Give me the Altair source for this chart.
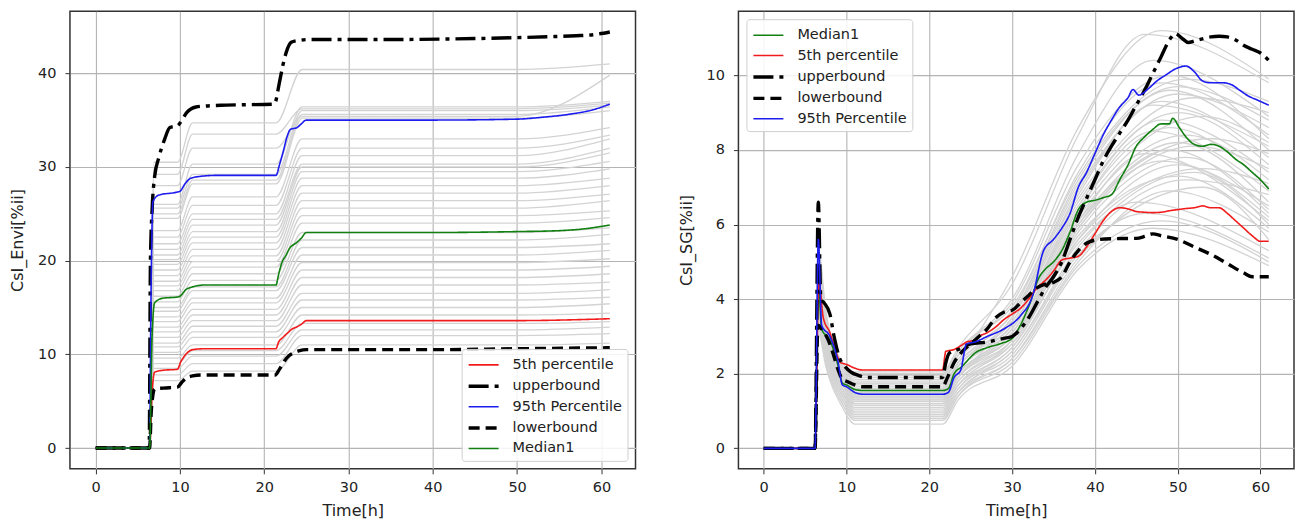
import altair as alt
import pandas as pd

# ---------------- shared ----------------
X_TICKS = [0, 10, 20, 30, 40, 50, 60]

# ---------------- left panel: CsI_Envi ----------------
L_Y_TICKS = [0, 10, 20, 30, 40]
# ensemble runs: value after first jump (a), first plateau (b), second plateau (c), end value (d)
L_ens_t = [0, 6.4, 6.9, 9.7, 11.5, 21.4, 24.5, 50, 61]
L_ens_a = [7.2, 7.8, 8.5, 9.0, 9.6, 10.2, 10.8, 11.2, 11.8, 12.4, 12.9, 13.5, 14.0, 14.6, 15.0, 15.6, 16.2, 16.8,
           17.3, 17.8, 18.4, 19.0, 19.6, 20.1, 20.6, 21.2, 21.8, 22.5, 23.2, 24.5, 25.0, 25.6, 26.0, 28.0, 30.5, 29.2]
L_ens_b = [8.2, 9.0, 9.8, 10.4, 11.0, 11.8, 12.4, 13.0, 13.6, 14.2, 14.8, 15.5, 16.0, 16.8, 17.2, 17.9, 18.6, 19.3,
           19.9, 20.5, 21.2, 21.9, 22.5, 23.1, 23.8, 24.4, 25.0, 25.9, 26.8, 28.2, 28.6, 29.2, 30.3, 32.0, 34.7, 33.5]
L_ens_c = [11.0, 12.0, 12.6, 13.3, 14.2, 15.0, 15.8, 16.5, 17.4, 18.2, 19.0, 19.8, 20.6, 21.4, 22.2, 23.0, 24.0, 24.8,
           25.6, 26.4, 27.2, 28.0, 28.8, 29.5, 30.0, 30.3, 31.2, 32.0, 33.0, 35.2, 35.6, 36.0, 36.4, 35.4, 40.4, 36.2]
L_ens_d = [11.2, 12.2, 12.9, 13.5, 14.4, 15.4, 16.1, 16.9, 17.7, 18.6, 19.4, 20.2, 21.1, 21.8, 22.8, 23.5, 24.6, 25.3,
           26.4, 27.1, 28.0, 28.8, 29.8, 30.6, 31.5, 32.0, 33.0, 33.4, 34.2, 36.0, 36.4, 36.6, 37.0, 39.8, 41.0, 36.8]

L_upper_t = [0, 6.35, 6.5, 6.7, 7.0, 7.5, 8.2, 8.8, 9.7, 10.3, 10.8, 11.9, 13.0, 15.5, 21.2, 21.8, 22.2, 22.6,
             23.2, 24.0, 25.4, 35, 45, 50, 54, 57, 59, 61]
L_upper_v = [0, 0, 20.0, 25.5, 29.0, 31.0, 33.0, 34.2, 34.4, 35.1, 35.8, 36.4, 36.5, 36.6, 36.7, 39.0, 40.8, 42.2,
             43.3, 43.5, 43.6, 43.6, 43.7, 43.8, 43.9, 44.0, 44.1, 44.4]
L_p95_t = [0, 6.4, 6.55, 6.8, 7.5, 9.6, 10.0, 10.6, 11.3, 12.5, 14.5, 21.4, 21.8, 22.3, 22.7, 23.1, 23.9, 24.4,
           25.0, 40, 50, 53, 56, 59, 61]
L_p95_v = [0, 0, 15.0, 26.3, 27.0, 27.3, 27.4, 28.2, 28.8, 29.0, 29.1, 29.1, 30.2, 31.8, 33.2, 34.0, 34.2, 34.6,
           35.0, 35.0, 35.1, 35.3, 35.6, 36.1, 36.7]
L_med_t = [0, 6.4, 6.7, 7.0, 8.0, 9.6, 10.0, 10.7, 11.5, 13, 21.4, 21.7, 22.1, 22.6, 23.0, 23.8, 24.4, 25.0,
           40, 50, 55, 58, 61]
L_med_v = [0, 0, 12.0, 15.5, 16.0, 16.1, 16.2, 16.9, 17.2, 17.4, 17.4, 18.5, 19.8, 20.6, 21.3, 21.9, 22.4, 23.0,
           23.0, 23.1, 23.2, 23.4, 23.8]
L_p5_t = [0, 6.4, 6.7, 7.0, 8.0, 9.7, 10.1, 10.8, 11.5, 13, 21.4, 21.7, 22.2, 22.8, 23.3, 23.8, 24.4, 25.0,
          40, 50, 61]
L_p5_v = [0, 0, 6.0, 8.1, 8.3, 8.4, 9.2, 10.1, 10.5, 10.6, 10.6, 11.3, 11.8, 12.3, 12.7, 12.9, 13.2, 13.6,
          13.6, 13.6, 13.8]
L_lower_t = [0, 6.4, 6.6, 7.0, 8.0, 9.7, 10.2, 10.8, 11.5, 12.5, 21.3, 21.8, 22.4, 23.0, 23.6, 24.2, 25,
             40, 50, 61]
L_lower_v = [0, 0, 4.0, 6.3, 6.4, 6.5, 7.0, 7.5, 7.7, 7.8, 7.8, 8.4, 9.3, 9.9, 10.2, 10.4, 10.5,
             10.5, 10.6, 10.7]

# ---------------- right panel: CsI_SG ----------------
R_Y_TICKS = [0, 2, 4, 6, 8, 10]
# ensemble runs: spike, v@7.5, v@9.5, plateau, v@23.5, v@30, v@38, peak time, peak value, v@61
R_spk = [4.2, 3.8, 4.6, 3.5, 5.0, 3.3, 4.4, 3.6, 5.2, 3.2, 4.0, 4.8, 3.4, 4.3, 3.9, 5.4, 3.1, 4.1,
         3.7, 4.5, 3.5, 4.9, 3.3, 4.2, 3.8, 4.7, 3.6, 4.4, 3.4, 4.0, 5.1, 3.9, 4.3, 3.5, 4.6, 3.2]
R_v75 = [3.0, 2.8, 3.3, 2.6, 3.5, 2.4, 3.1, 2.7, 3.6, 2.3, 2.9, 3.4, 2.5, 3.0, 2.8, 3.7, 2.2, 2.9,
         2.7, 3.2, 2.6, 3.4, 2.4, 3.0, 2.8, 3.3, 2.6, 3.1, 2.5, 2.9, 3.6, 2.8, 3.0, 2.6, 3.3, 2.3]
R_v95 = [1.9, 1.7, 2.1, 1.5, 2.2, 1.3, 2.0, 1.6, 2.3, 1.2, 1.8, 2.2, 1.4, 1.9, 1.7, 2.3, 1.1, 1.8,
         1.6, 2.0, 1.5, 2.2, 1.3, 1.9, 1.7, 2.1, 1.5, 2.0, 1.4, 1.8, 2.2, 1.7, 1.9, 1.5, 2.1, 1.2]
R_plat = [1.45, 1.30, 1.75, 1.10, 1.90, 0.90, 1.60, 1.20, 2.00, 0.75, 1.40, 1.85, 1.00, 1.55, 1.35, 2.05, 0.65, 1.45,
          1.25, 1.65, 1.15, 1.80, 0.85, 1.50, 1.30, 1.70, 1.05, 1.60, 0.95, 1.40, 1.95, 1.35, 1.55, 1.20, 1.75, 0.80]
R_v235 = [2.0, 1.9, 2.3, 1.7, 2.5, 1.5, 2.2, 1.8, 2.6, 1.4, 2.0, 2.4, 1.6, 2.1, 1.9, 2.7, 1.3, 2.0,
          1.8, 2.2, 1.7, 2.5, 1.5, 2.1, 1.9, 2.3, 1.6, 2.2, 1.5, 2.0, 2.6, 1.9, 2.1, 1.7, 2.3, 1.4]
R_v30 = [3.2, 3.0, 3.4, 2.8, 3.7, 2.6, 3.3, 2.9, 4.0, 2.4, 3.1, 3.6, 2.7, 3.3, 3.5, 4.4, 2.2, 3.0,
         2.8, 3.5, 2.9, 3.9, 2.5, 3.2, 3.1, 4.6, 2.6, 3.4, 2.4, 3.0, 3.8, 2.9, 3.3, 2.7, 3.6, 2.3]
R_v38 = [6.4, 6.0, 6.9, 5.8, 7.4, 5.4, 6.6, 5.9, 7.9, 5.1, 6.2, 7.1, 5.6, 6.5, 6.8, 8.4, 4.8, 5.9,
         5.5, 7.0, 6.1, 7.6, 5.2, 6.3, 6.0, 8.6, 5.3, 6.7, 5.0, 6.1, 7.3, 5.7, 6.4, 5.6, 7.2, 4.9]
R_pkt = [49, 50, 48, 51, 48, 52, 50, 49, 47, 53, 51, 49, 50, 48, 47, 46, 47, 52,
         45, 50, 54, 49, 46, 53, 48, 48, 51, 52, 49, 46, 51, 50, 47, 53, 50, 48]
R_pkv = [8.6, 8.2, 9.3, 7.8, 9.8, 7.4, 9.0, 8.0, 10.4, 7.0, 8.4, 9.6, 7.6, 8.8, 9.2, 11.1, 5.9, 8.1,
         6.6, 9.5, 8.3, 10.0, 6.3, 8.9, 7.7, 11.2, 7.2, 9.4, 6.9, 7.9, 9.9, 7.3, 8.5, 7.5, 9.7, 6.1]
R_v61 = [7.0, 6.6, 7.8, 6.4, 8.4, 6.0, 7.6, 6.3, 8.9, 5.6, 7.2, 8.0, 6.2, 7.4, 8.1, 9.8, 4.9, 7.5,
         5.3, 8.6, 7.9, 8.3, 5.1, 8.2, 6.5, 9.9, 6.8, 9.0, 5.8, 6.1, 9.3, 5.9, 6.9, 7.1, 8.8, 5.0]

R_med_t = [0, 6.2, 6.6, 7.0, 8.0, 9.0, 9.5, 10, 11, 12, 21.6, 22.3, 23, 24, 24.8, 25.5, 27, 28.5, 30, 31, 32,
           33.3, 34, 35, 36, 37, 38, 39, 40, 41, 42, 43, 44, 45, 46, 47, 48, 49, 49.4, 50.2, 51, 52, 53, 54,
           55, 56, 57, 58, 59, 60, 61]
R_med_v = [0, 0, 4.4, 3.2, 2.9, 2.2, 1.75, 1.7, 1.58, 1.55, 1.55, 1.6, 2.0, 2.2, 2.4, 2.55, 2.7, 2.8, 2.95, 3.3, 3.8,
           4.6, 4.8, 5.0, 5.3, 5.8, 6.4, 6.6, 6.65, 6.72, 6.8, 7.2, 7.6, 8.1, 8.35, 8.55, 8.7, 8.7, 8.85, 8.6, 8.35,
           8.15, 8.1, 8.15, 8.1, 7.95, 7.75, 7.6, 7.4, 7.2, 6.95]
R_p5_t = [0, 6.2, 6.65, 7.2, 8.0, 8.7, 9.3, 10, 11, 12, 21.6, 22.0, 23, 23.8, 24.5, 25.5, 26, 27, 28, 29, 30, 31,
          32, 33, 34, 35, 36, 37, 38, 39, 40, 41, 42, 43, 44, 45, 46, 47, 48, 49, 50, 51, 52, 53, 54, 55, 56,
          57, 58, 59, 60, 61]
R_p5_v = [0, 0, 4.5, 3.5, 3.1, 2.6, 2.3, 2.25, 2.15, 2.1, 2.1, 2.6, 2.65, 2.75, 2.85, 2.9, 3.0, 3.1, 3.25, 3.45,
          3.6, 3.75, 4.0, 4.3, 4.5, 4.75, 5.05, 5.1, 5.15, 5.4, 5.75, 6.1, 6.35, 6.45, 6.42, 6.35, 6.33, 6.32,
          6.33, 6.37, 6.4, 6.43, 6.45, 6.5, 6.45, 6.45, 6.3, 6.1, 5.9, 5.7, 5.55, 5.55]
R_upper_t = [0, 6.2, 6.6, 6.9, 7.3, 8.0, 8.5, 9.2, 9.8, 10.5, 11.5, 12.5, 21.6, 22.0, 22.4, 23.5, 25, 27, 29, 30,
             31, 32, 33, 34, 35, 36, 37, 38, 39, 40, 41, 42, 43, 44, 45, 46, 47, 48, 49, 49.7, 50.5, 51.3, 52,
             53, 54, 55, 56, 57, 58, 59, 60, 61]
R_upper_v = [0, 0, 6.6, 4.0, 3.9, 3.6, 3.0, 2.4, 2.2, 2.05, 1.95, 1.9, 1.9, 2.3, 2.55, 2.65, 2.8, 2.85, 2.95, 3.0,
             3.2, 3.5, 3.9, 4.3, 4.6, 5.0, 5.6, 6.2, 6.7, 7.2, 7.7, 8.1, 8.45, 8.8, 9.2, 9.6, 10.05, 10.5, 10.95,
             11.12, 11.0, 10.88, 10.92, 10.98, 11.03, 11.05, 11.03, 10.95, 10.8, 10.7, 10.6, 10.4]
R_lower_t = [0, 6.2, 6.55, 7.0, 7.8, 8.3, 9.0, 9.5, 10, 11, 12, 21.6, 22.2, 23, 24, 25, 26, 27, 28, 29, 30, 31,
             32, 33, 34, 35, 36, 37, 38, 39, 40.5, 42, 45, 46, 47, 48, 50, 52, 54, 56, 58, 59, 61]
R_lower_v = [0, 0, 3.3, 3.2, 2.9, 2.6, 2.1, 1.85, 1.8, 1.7, 1.65, 1.65, 1.9, 2.3, 2.6, 2.8, 3.0, 3.2, 3.5, 3.65,
             3.7, 3.9, 4.1, 4.3, 4.4, 4.45, 4.6, 5.0, 5.3, 5.5, 5.6, 5.62, 5.63, 5.68, 5.75, 5.7, 5.6, 5.4, 5.2,
             4.95, 4.7, 4.6, 4.6]
R_p95_t = [0, 6.2, 6.6, 7.0, 8.0, 9.0, 9.5, 10, 11, 12, 21.6, 22.3, 23, 23.8, 24.5, 25.5, 27, 29, 31, 32.5,
           33.8, 35, 36, 37, 38, 39, 40, 41, 42, 43, 44, 44.6, 45.3, 46.5, 47.5, 48.5, 50, 51, 52, 53, 54,
           55.5, 56.5, 57.5, 58.5, 59.5, 61]
R_p95_v = [0, 0, 5.6, 3.3, 3.0, 2.3, 1.7, 1.65, 1.5, 1.45, 1.45, 1.5, 1.9, 2.1, 2.8, 2.85, 3.0, 3.2, 3.55, 4.1,
           5.3, 5.6, 5.9, 6.3, 7.0, 7.4, 7.9, 8.4, 8.8, 9.15, 9.4, 9.62, 9.47, 9.65, 9.85, 10.0, 10.2, 10.25,
           10.1, 9.85, 9.8, 9.8, 9.75, 9.6, 9.45, 9.35, 9.2]

# series styling (legend order per panel)
STYLE = {
    "5th percentile": ("#f21b1b", [1, 0], 1.6),
    "upperbound": ("#000000", [20, 6, 4, 6], 3.4),
    "95th Percentile": ("#1c1cf0", [1, 0], 1.6),
    "lowerbound": ("#000000", [11, 6], 3.4),
    "Median1": ("#118011", [1, 0], 1.6),
}
L_ORDER = ["5th percentile", "upperbound", "95th Percentile", "lowerbound", "Median1"]
R_ORDER = ["Median1", "5th percentile", "upperbound", "lowerbound", "95th Percentile"]


def long_stats(pairs):
    rows = []
    for name, ts, vs in pairs:
        for t, v in zip(ts, vs):
            rows.append({"series": name, "t": t, "v": v})
    return pd.DataFrame(rows)


L_ens_rows = []
for i in range(len(L_ens_a)):
    vals = [0, 0, L_ens_a[i], L_ens_a[i], L_ens_b[i], L_ens_b[i], L_ens_c[i], L_ens_c[i], L_ens_d[i]]
    for t, v in zip(L_ens_t, vals):
        L_ens_rows.append({"run": i, "t": t, "v": v})
L_ens = pd.DataFrame(L_ens_rows)

R_ens_rows = []
for i in range(len(R_spk)):
    ts = [0, 6.2, 6.6, 7.5, 9.5, 11.0, 21.6, 23.5, 30, 38, R_pkt[i], 61]
    vals = [0, 0, R_spk[i], R_v75[i], R_v95[i], R_plat[i], R_plat[i], R_v235[i], R_v30[i], R_v38[i],
            R_pkv[i], R_v61[i]]
    for t, v in zip(ts, vals):
        R_ens_rows.append({"run": i, "t": t, "v": v})
R_ens = pd.DataFrame(R_ens_rows)

L_stats = long_stats([
    ("5th percentile", L_p5_t, L_p5_v),
    ("upperbound", L_upper_t, L_upper_v),
    ("95th Percentile", L_p95_t, L_p95_v),
    ("lowerbound", L_lower_t, L_lower_v),
    ("Median1", L_med_t, L_med_v),
])
R_stats = long_stats([
    ("Median1", R_med_t, R_med_v),
    ("5th percentile", R_p5_t, R_p5_v),
    ("upperbound", R_upper_t, R_upper_v),
    ("lowerbound", R_lower_t, R_lower_v),
    ("95th Percentile", R_p95_t, R_p95_v),
])


def panel(ens, stats, ydom, yticks, ytitle, order, orient, w, h):
    x = alt.X("t:Q", scale=alt.Scale(domain=[-3.05, 64.05], nice=False, zero=False),
              axis=alt.Axis(values=X_TICKS, title="Time[h]"))
    y = alt.Y("v:Q", scale=alt.Scale(domain=ydom, nice=False, zero=False),
              axis=alt.Axis(values=yticks, title=ytitle))
    leg = alt.Legend(title=None, orient=orient, offset=8, symbolType="M-1.5,0L1.5,0", symbolSize=400,
                     symbolOffset=5, labelFontSize=14.5, labelFont="DejaVu Sans", labelColor="#222",
                     labelOffset=17, rowPadding=2.4, padding=5, fillColor="rgba(255,255,255,0.85)",
                     strokeColor="#cfcfcf", cornerRadius=3, labelLimit=300)
    gray = alt.Chart(ens).mark_line(color="#d3d3d3", strokeWidth=1.3, interpolate="monotone").encode(
        x=x, y=y, detail="run:N")
    stat = alt.Chart(stats).mark_line(interpolate="monotone").encode(
        x=x, y=y,
        color=alt.Color("series:N", scale=alt.Scale(domain=order, range=[STYLE[s][0] for s in order]), legend=leg),
        strokeDash=alt.StrokeDash("series:N", scale=alt.Scale(domain=order, range=[STYLE[s][1] for s in order]),
                                  legend=leg),
        strokeWidth=alt.StrokeWidth("series:N", scale=alt.Scale(type="ordinal", domain=order,
                                                                 range=[STYLE[s][2] for s in order]), legend=leg),
    )
    return alt.layer(gray, stat).properties(width=w, height=h)


left = panel(L_ens, L_stats, [-2.22, 46.62], L_Y_TICKS, "CsI_Envi[%ii]", L_ORDER, "bottom-right", 566, 458)
right = panel(R_ens, R_stats, [-0.55, 11.72], R_Y_TICKS, "CsI_SG[%ii]", R_ORDER, "top-left", 556, 458)

chart = (
    alt.hconcat(left, right, spacing=40)
    .resolve_scale(x="independent", y="independent", color="independent", strokeDash="independent",
                   strokeWidth="independent")
    .resolve_legend(color="independent", strokeDash="independent", strokeWidth="independent")
    .properties(padding={"left": 0, "top": 2, "right": 0, "bottom": 0})
    .configure_view(stroke="#333333", strokeWidth=1.5)
    .configure_axis(grid=True, gridColor="#b4b4b4", gridWidth=1.1, domain=False, tickColor="#333333",
                    tickSize=5, labelFont="DejaVu Sans", labelFontSize=14.5, labelColor="#222222",
                    titleFont="DejaVu Sans", titleFontSize=16, titleFontWeight="normal", titleColor="#222222")
    .configure_axisX(labelPadding=7, titlePadding=8)
    .configure_axisY(labelPadding=9, titlePadding=12)
)

chart.save("out.html", embed_options={"renderer": "svg", "actions": False})
